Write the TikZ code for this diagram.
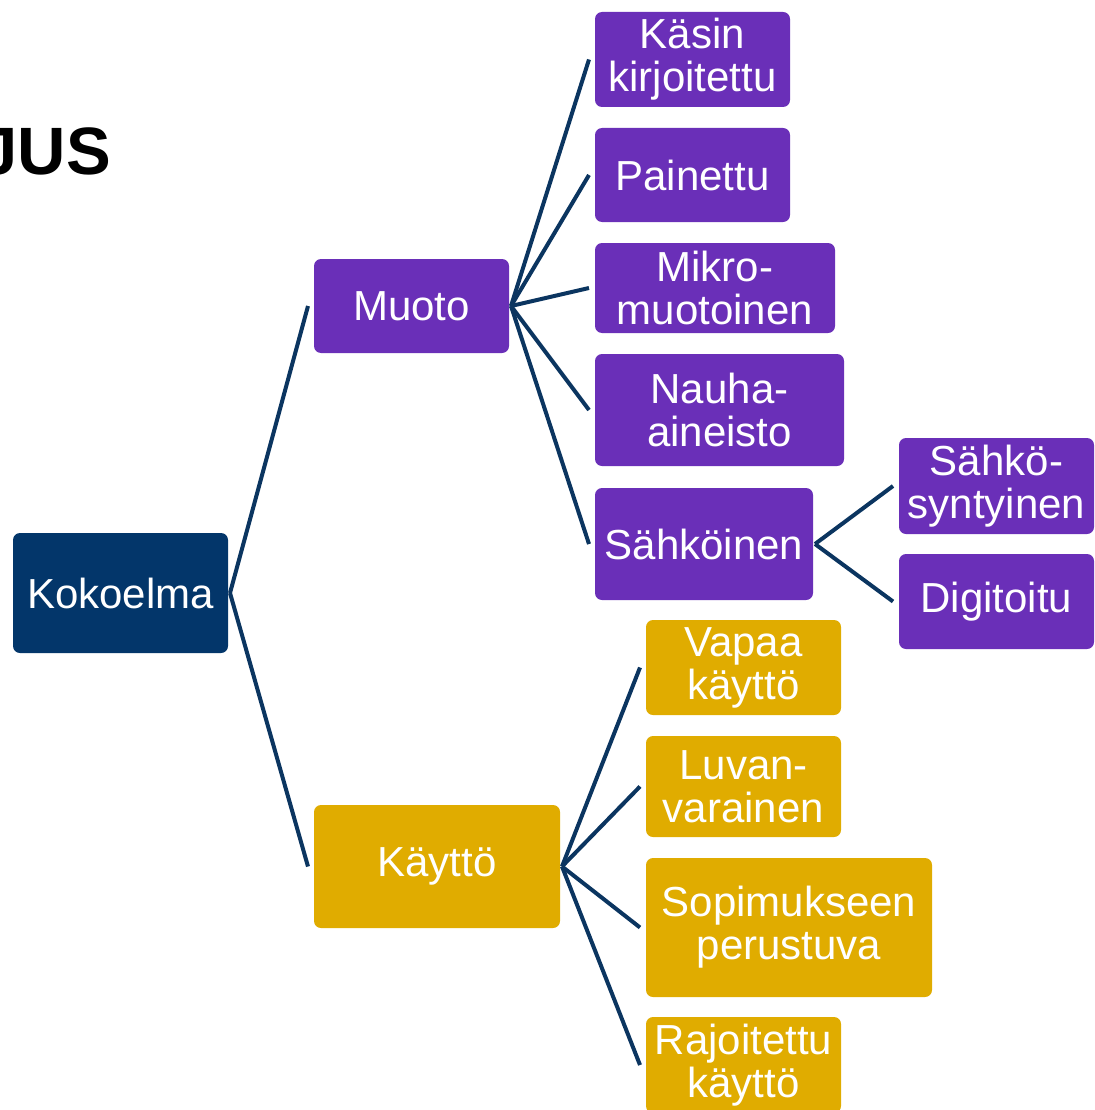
\documentclass[tikz,border=0pt]{standalone}
\usepackage{fontspec}
\setmainfont{Liberation Sans}
\definecolor{navy}{HTML}{03366A}
\definecolor{linec}{HTML}{0B3560}
\definecolor{purp}{HTML}{6A2FB8}
\definecolor{gold}{HTML}{E0AC00}
\tikzset{
  box/.style={rounded corners=7pt, inner sep=0pt, align=center, text=white,
    font=\fontsize{42}{43}\selectfont},
  pbox/.style={box, fill=purp},
  gbox/.style={box, fill=gold},
  nbox/.style={box, fill=navy},
  conn/.style={draw=linec, line width=4pt},
}
\newcommand{\bx}[7]{% name, style, x1, y1, x2, y2, text
  \path[#2] (#3,#4) rectangle (#5,#6);
  \node[#2, fill=none] (#1) at ({(#3+#5)/2},{(#4+#6)/2}) {#7};
  \coordinate (#1-w) at (#3-6,{(#4+#6)/2});
  \coordinate (#1-e) at (#5+2,{(#4+#6)/2});
}
\begin{document}
\begin{tikzpicture}[x=1pt,y=-1pt]
\useasboundingbox (0,0) rectangle (1094,1110);
\clip (0,0) rectangle (1094,1110);
\node[anchor=base east, inner sep=0pt, font=\fontsize{67}{67}\selectfont\bfseries] (title) at (111,175) {JUS};
\bx{kok}{nbox}{13}{533}{228}{653}{Kokoelma}
\bx{muo}{pbox}{314}{259}{509}{353}{Muoto}
\bx{kay}{gbox}{314}{805}{560}{928}{Käyttö}
\bx{kas}{pbox}{595}{12}{790}{107}{Käsin\\kirjoitettu}
\bx{pai}{pbox}{595}{128}{790}{222}{Painettu}
\bx{mik}{pbox}{595}{243}{835}{333}{Mikro-\\muotoinen}
\bx{nau}{pbox}{595}{354}{844}{466}{Nauha-\\aineisto}
\bx{sah}{pbox}{595}{488}{813}{600}{Sähköinen}
\bx{ssy}{pbox}{899}{438}{1094}{534}{Sähkö-\\syntyinen}
\bx{dig}{pbox}{899}{554}{1094}{649}{Digitoitu}
\bx{vap}{gbox}{646}{620}{841}{715}{Vapaa\\käyttö}
\bx{luv}{gbox}{646}{736}{841}{837}{Luvan-\\varainen}
\bx{sop}{gbox}{646}{858}{932}{997}{Sopimukseen\\perustuva}
\bx{raj}{gbox}{646}{1017}{841}{1113}{Rajoitettu\\käyttö}
\foreach \c in {muo,kay} \draw[conn] (kok-e) -- (\c-w);
\foreach \c in {kas,pai,mik,nau,sah} \draw[conn] (muo-e) -- (\c-w);
\foreach \c in {ssy,dig} \draw[conn] (sah-e) -- (\c-w);
\foreach \c in {vap,luv,sop,raj} \draw[conn] (kay-e) -- (\c-w);
\end{tikzpicture}
\end{document}
